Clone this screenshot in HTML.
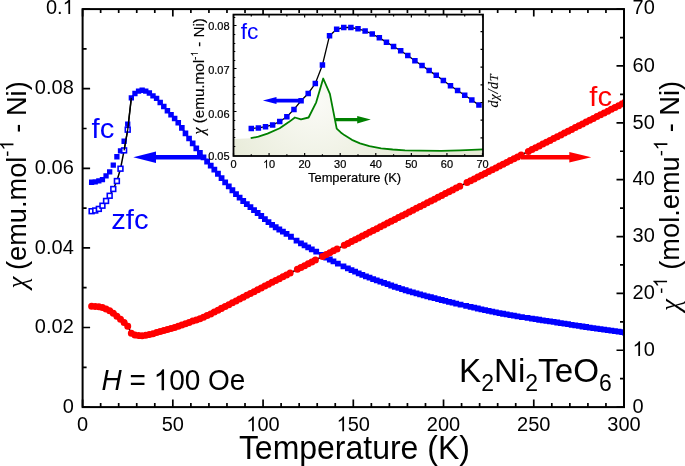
<!DOCTYPE html>
<html><head><meta charset="utf-8"><style>
html,body{margin:0;padding:0;background:#fff;}
svg{display:block;will-change:transform;}
text{font-family:"Liberation Sans",sans-serif;}
.ser{font-family:"Liberation Serif",serif;font-style:italic;}
</style></head><body>
<svg width="685" height="466" viewBox="0 0 685 466">
<defs>
<radialGradient id="gfill" cx="316" cy="100" r="110" gradientUnits="userSpaceOnUse">
<stop offset="0" stop-color="#fbfbf7"></stop><stop offset="1" stop-color="#e6eAd6"></stop>
</radialGradient>
<clipPath id="mclip"><rect x="82.6" y="9.1" width="541.4" height="398"></rect></clipPath>
</defs>
<rect width="685" height="466" fill="#fff"></rect>

<g clip-path="url(#mclip)">
<polyline fill="none" stroke="#000" stroke-width="1.5" points="91.62,211.2 95.23,210.49 98.84,208.9 102.45,205.71 106.06,200.94 109.67,195.76 113.28,189 116.89,181.04 120.5,168.7 124.11,150.39 127.72,129.69 131.33,97.85 134.94,93.48 138.54,91.09 142.15,90.29 145.76,91.15 149.37,92.99 152.98,95.84 156.59,98.35 160.2,102.42 163.81,106.61 167.42,110.78 171.03,114.77 174.64,118.55 178.25,122.7 181.86,127.92 185.47,133.4 189.08,138.47 192.68,143.41 196.29,148.28 199.9,152.95 203.51,157.31 207.12,161.48 210.73,165.59 214.34,169.62 217.95,173.75 221.56,178.08 225.17,182.37 228.78,186.38 232.39,190.25 236,194.03 239.61,197.63 243.22,200.99 246.82,204.12 250.43,207.1 254.04,210.03 257.65,212.98 261.26,216.02 264.87,219.1 268.48,222.08 272.09,224.82 275.7,227.25 279.31,229.48 282.92,231.64 286.53,233.85 290.14,236.2 293.75,238.68 297.36,241.12 300.96,243.38 304.57,245.44 308.18,247.4 311.79,249.32 315.4,251.27 319.01,253.3 322.62,255.45 326.23,257.55 329.84,259.49 333.45,261.36 337.06,263.17 340.67,264.94 344.28,266.66 347.89,268.37 351.5,270.04 355.1,271.69 358.71,273.28 362.32,274.82 365.93,276.29 369.54,277.69 373.15,279.05 376.76,280.36 380.37,281.66 383.98,282.94 387.59,284.22 391.2,285.49 394.81,286.74 398.42,287.95 402.03,289.12 405.64,290.24 409.24,291.32 412.85,292.36 416.46,293.37 420.07,294.35 423.68,295.32 427.29,296.28 430.9,297.23 434.51,298.17 438.12,299.09 441.73,300 445.34,300.9 448.95,301.79 452.56,302.66 456.17,303.53 459.78,304.38 463.38,305.21 466.99,306.04 470.6,306.86 474.21,307.68 477.82,308.49 481.43,309.29 485.04,310.07 488.65,310.84 492.26,311.6 495.87,312.34 499.48,313.06 503.09,313.75 506.7,314.43 510.31,315.07 513.92,315.7 517.52,316.3 521.13,316.9 524.74,317.48 528.35,318.06 531.96,318.63 535.57,319.2 539.18,319.75 542.79,320.29 546.4,320.84 550.01,321.38 553.62,321.93 557.23,322.49 560.84,323.06 564.45,323.64 568.06,324.22 571.66,324.8 575.27,325.37 578.88,325.93 582.49,326.49 586.1,327.02 589.71,327.54 593.32,328.05 596.93,328.55 600.54,329.05 604.15,329.55 607.76,330.06 611.37,330.58 614.98,331.1 618.59,331.61 622.2,332.13 624.9,332.53"></polyline>
<polyline fill="none" stroke="#000" stroke-width="1.5" points="91.62,306.3 95.23,306.46 98.84,306.8 102.45,307.54 106.06,308.93 109.67,310.71 113.28,313.28 116.89,316.19 120.5,319.16 124.11,322.44 127.72,326.25 131.33,333.19 134.94,334.97 138.54,335.6 142.15,335.78 145.76,335.33 149.37,334.61 152.98,333.72 156.59,332.62 160.2,331.55 163.81,330.59 167.42,329.59 171.03,328.55 174.64,327.47 178.25,326.33 181.86,325.1 185.47,323.75 189.08,322.38 192.68,321.09 196.29,319.9 199.9,318.64 203.51,317.19 207.12,315.61 210.73,313.91 214.34,312.12 217.95,310.26 221.56,308.38 225.17,306.51 228.78,304.65 232.39,302.79 236,300.93 239.61,299.07 243.22,297.21 246.82,295.35 250.43,293.49 254.04,291.64 257.65,289.78 261.26,287.92 264.87,286.06 268.48,284.21 272.09,282.35 275.7,280.49 279.31,278.64 282.92,276.78 286.53,274.93 290.14,273.07 293.75,271.22 297.36,269.36 300.96,267.51 304.57,265.66 308.18,263.8 311.79,261.95 315.4,260.1 319.01,258.24 322.62,256.39 326.23,254.54 329.84,252.69 333.45,250.84 337.06,248.99 340.67,247.14 344.28,245.29 347.89,243.44 351.5,241.59 355.1,239.74 358.71,237.89 362.32,236.04 365.93,234.2 369.54,232.35 373.15,230.5 376.76,228.65 380.37,226.81 383.98,224.96 387.59,223.11 391.2,221.27 394.81,219.42 398.42,217.58 402.03,215.73 405.64,213.89 409.24,212.05 412.85,210.2 416.46,208.36 420.07,206.52 423.68,204.67 427.29,202.83 430.9,200.99 434.51,199.15 438.12,197.3 441.73,195.46 445.34,193.62 448.95,191.78 452.56,189.94 456.17,188.1 459.78,186.26 463.38,184.42 466.99,182.59 470.6,180.75 474.21,178.91 477.82,177.07 481.43,175.23 485.04,173.4 488.65,171.56 492.26,169.72 495.87,167.89 499.48,166.05 503.09,164.22 506.7,162.38 510.31,160.55 513.92,158.71 517.52,156.88 521.13,155.04 524.74,153.21 528.35,151.38 531.96,149.54 535.57,147.71 539.18,145.88 542.79,144.05 546.4,142.22 550.01,140.39 553.62,138.55 557.23,136.72 560.84,134.89 564.45,133.06 568.06,131.23 571.66,129.4 575.27,127.58 578.88,125.75 582.49,123.92 586.1,122.09 589.71,120.26 593.32,118.44 596.93,116.61 600.54,114.78 604.15,112.96 607.76,111.13 611.37,109.31 614.98,107.48 618.59,105.65 622.2,103.83 624.9,102.46"></polyline>
<path fill="#0000ff" d="M88.97 179.58h5.3v5.3h-5.3zM92.58 179.18h5.3v5.3h-5.3zM96.19 178.19h5.3v5.3h-5.3zM99.8 176.99h5.3v5.3h-5.3zM103.41 173.29h5.3v5.3h-5.3zM107.02 169.23h5.3v5.3h-5.3zM110.63 162.47h5.3v5.3h-5.3zM114.24 154.11h5.3v5.3h-5.3zM117.85 148.14h5.3v5.3h-5.3zM121.46 138.59h5.3v5.3h-5.3zM125.07 121.47h5.3v5.3h-5.3zM128.68 95.2h5.3v5.3h-5.3zM132.29 90.83h5.3v5.3h-5.3zM135.89 88.43h5.31v5.31h-5.31zM139.49 87.62h5.34v5.34h-5.34zM143.08 88.47h5.36v5.36h-5.36zM146.68 90.29h5.39v5.39h-5.39zM150.28 93.13h5.41v5.41h-5.41zM153.87 95.63h5.44v5.44h-5.44zM157.47 99.69h5.46v5.46h-5.46zM161.07 103.87h5.49v5.49h-5.49zM164.66 108.03h5.51v5.51h-5.51zM168.26 112h5.54v5.54h-5.54zM171.86 115.77h5.56v5.56h-5.56zM175.45 119.9h5.59v5.59h-5.59zM179.05 125.11h5.61v5.61h-5.61zM182.65 130.58h5.64v5.64h-5.64zM186.24 135.64h5.66v5.66h-5.66zM189.84 140.57h5.69v5.69h-5.69zM193.44 145.42h5.71v5.71h-5.71zM197.03 150.08h5.74v5.74h-5.74zM200.63 154.43h5.76v5.76h-5.76zM204.23 158.59h5.79v5.79h-5.79zM207.83 162.69h5.8v5.8h-5.8zM211.44 166.72h5.8v5.8h-5.8zM215.05 170.85h5.8v5.8h-5.8zM218.66 175.18h5.8v5.8h-5.8zM222.27 179.47h5.8v5.8h-5.8zM225.88 183.48h5.8v5.8h-5.8zM229.49 187.35h5.8v5.8h-5.8zM233.1 191.13h5.8v5.8h-5.8zM236.71 194.73h5.8v5.8h-5.8zM240.32 198.09h5.8v5.8h-5.8zM243.92 201.22h5.8v5.8h-5.8zM247.53 204.2h5.8v5.8h-5.8zM251.14 207.13h5.8v5.8h-5.8zM254.75 210.08h5.8v5.8h-5.8zM258.36 213.12h5.8v5.8h-5.8zM261.97 216.2h5.8v5.8h-5.8zM265.58 219.18h5.8v5.8h-5.8zM269.19 221.92h5.8v5.8h-5.8zM272.8 224.35h5.8v5.8h-5.8zM276.41 226.58h5.8v5.8h-5.8zM280.02 228.74h5.8v5.8h-5.8zM283.63 230.95h5.8v5.8h-5.8zM288.05 233.86h5.8v5.8h-5.8zM293.64 237.68h5.8v5.8h-5.8zM298.06 240.48h5.8v5.8h-5.8zM301.67 242.54h5.8v5.8h-5.8zM305.28 244.5h5.8v5.8h-5.8zM308.89 246.42h5.8v5.8h-5.8zM313.31 248.81h5.8v5.8h-5.8zM318.91 252.07h5.8v5.8h-5.8zM323.33 254.65h5.8v5.8h-5.8zM326.94 256.59h5.8v5.8h-5.8zM330.55 258.46h5.8v5.8h-5.8zM334.97 260.67h5.8v5.8h-5.8zM340.56 263.38h5.8v5.8h-5.8zM344.99 265.47h5.8v5.8h-5.8zM348.6 267.14h5.8v5.8h-5.8zM352.2 268.79h5.8v5.8h-5.8zM355.81 270.38h5.8v5.8h-5.8zM359.42 271.92h5.8v5.8h-5.8zM363.03 273.39h5.8v5.8h-5.8zM366.64 274.79h5.8v5.8h-5.8zM370.25 276.15h5.8v5.8h-5.8zM373.86 277.46h5.8v5.8h-5.8zM377.47 278.76h5.8v5.8h-5.8zM381.08 280.04h5.8v5.8h-5.8zM384.69 281.32h5.8v5.8h-5.8zM388.3 282.59h5.8v5.8h-5.8zM391.91 283.84h5.8v5.8h-5.8zM395.52 285.05h5.8v5.8h-5.8zM399.13 286.22h5.8v5.8h-5.8zM402.74 287.34h5.8v5.8h-5.8zM406.34 288.42h5.8v5.8h-5.8zM409.95 289.46h5.8v5.8h-5.8zM413.56 290.47h5.8v5.8h-5.8zM417.17 291.45h5.8v5.8h-5.8zM420.78 292.42h5.8v5.8h-5.8zM424.39 293.38h5.8v5.8h-5.8zM428 294.33h5.8v5.8h-5.8zM431.61 295.27h5.8v5.8h-5.8zM435.22 296.19h5.8v5.8h-5.8zM438.83 297.1h5.8v5.8h-5.8zM442.44 298h5.8v5.8h-5.8zM446.05 298.89h5.8v5.8h-5.8zM449.66 299.76h5.8v5.8h-5.8zM453.27 300.63h5.8v5.8h-5.8zM457.69 301.66h5.8v5.8h-5.8zM463.28 302.95h5.8v5.8h-5.8zM467.7 303.96h5.8v5.8h-5.8zM471.31 304.78h5.8v5.8h-5.8zM474.92 305.59h5.8v5.8h-5.8zM478.53 306.39h5.8v5.8h-5.8zM482.14 307.17h5.8v5.8h-5.8zM485.75 307.94h5.8v5.8h-5.8zM489.36 308.7h5.8v5.8h-5.8zM492.97 309.44h5.8v5.8h-5.8zM496.58 310.16h5.8v5.8h-5.8zM500.19 310.85h5.8v5.8h-5.8zM503.8 311.53h5.8v5.8h-5.8zM507.41 312.17h5.8v5.8h-5.8zM511.02 312.8h5.8v5.8h-5.8zM514.62 313.4h5.8v5.8h-5.8zM519.05 314.13h5.8v5.8h-5.8zM524.64 315.03h5.8v5.8h-5.8zM529.06 315.73h5.8v5.8h-5.8zM532.67 316.3h5.8v5.8h-5.8zM536.28 316.85h5.8v5.8h-5.8zM539.89 317.39h5.8v5.8h-5.8zM543.5 317.94h5.8v5.8h-5.8zM547.11 318.48h5.8v5.8h-5.8zM550.72 319.03h5.8v5.8h-5.8zM554.33 319.59h5.8v5.8h-5.8zM557.94 320.16h5.8v5.8h-5.8zM561.55 320.74h5.8v5.8h-5.8zM565.16 321.32h5.8v5.8h-5.8zM568.76 321.9h5.8v5.8h-5.8zM572.37 322.47h5.8v5.8h-5.8zM575.98 323.03h5.8v5.8h-5.8zM579.59 323.59h5.8v5.8h-5.8zM583.2 324.12h5.8v5.8h-5.8zM586.81 324.64h5.8v5.8h-5.8zM590.42 325.15h5.8v5.8h-5.8zM594.03 325.65h5.8v5.8h-5.8zM597.64 326.15h5.8v5.8h-5.8zM601.25 326.65h5.8v5.8h-5.8zM604.86 327.16h5.8v5.8h-5.8zM608.47 327.68h5.8v5.8h-5.8zM612.08 328.2h5.8v5.8h-5.8zM615.69 328.71h5.8v5.8h-5.8zM619.3 329.23h5.8v5.8h-5.8zM622 329.63h5.8v5.8h-5.8z"></path>
<g fill="#fff" stroke="#0000ff" stroke-width="1.6"><rect x="89.22" y="208.8" width="4.8" height="4.8"></rect><rect x="92.83" y="208.09" width="4.8" height="4.8"></rect><rect x="96.44" y="206.5" width="4.8" height="4.8"></rect><rect x="100.05" y="203.31" width="4.8" height="4.8"></rect><rect x="103.66" y="198.54" width="4.8" height="4.8"></rect><rect x="107.27" y="193.36" width="4.8" height="4.8"></rect><rect x="110.88" y="186.6" width="4.8" height="4.8"></rect><rect x="114.49" y="178.64" width="4.8" height="4.8"></rect><rect x="118.1" y="166.3" width="4.8" height="4.8"></rect><rect x="121.71" y="147.99" width="4.8" height="4.8"></rect><rect x="125.32" y="127.29" width="4.8" height="4.8"></rect></g>
<polyline fill="none" stroke="#000" stroke-width="1.3" points="124.11,150.39 127.72,129.69 131.33,97.85"></polyline>
<path fill="#ff0000" d="M88.12 306.3a3.5 3.5 0 1 0 7 0a3.5 3.5 0 1 0 -7 0zM91.73 306.46a3.5 3.5 0 1 0 7 0a3.5 3.5 0 1 0 -7 0zM95.34 306.8a3.5 3.5 0 1 0 7 0a3.5 3.5 0 1 0 -7 0zM98.95 307.54a3.5 3.5 0 1 0 7 0a3.5 3.5 0 1 0 -7 0zM102.56 308.93a3.5 3.5 0 1 0 7 0a3.5 3.5 0 1 0 -7 0zM106.17 310.71a3.5 3.5 0 1 0 7 0a3.5 3.5 0 1 0 -7 0zM109.78 313.28a3.5 3.5 0 1 0 7 0a3.5 3.5 0 1 0 -7 0zM113.39 316.19a3.5 3.5 0 1 0 7 0a3.5 3.5 0 1 0 -7 0zM117 319.16a3.5 3.5 0 1 0 7 0a3.5 3.5 0 1 0 -7 0zM120.61 322.44a3.5 3.5 0 1 0 7 0a3.5 3.5 0 1 0 -7 0zM124.22 326.25a3.5 3.5 0 1 0 7 0a3.5 3.5 0 1 0 -7 0zM127.83 333.19a3.5 3.5 0 1 0 7 0a3.5 3.5 0 1 0 -7 0zM131.44 334.97a3.5 3.5 0 1 0 7 0a3.5 3.5 0 1 0 -7 0zM135.04 335.6a3.5 3.5 0 1 0 7 0a3.5 3.5 0 1 0 -7 0zM138.65 335.78a3.5 3.5 0 1 0 7 0a3.5 3.5 0 1 0 -7 0zM142.26 335.33a3.5 3.5 0 1 0 7 0a3.5 3.5 0 1 0 -7 0zM145.87 334.61a3.5 3.5 0 1 0 7 0a3.5 3.5 0 1 0 -7 0zM149.48 333.72a3.5 3.5 0 1 0 7 0a3.5 3.5 0 1 0 -7 0zM153.09 332.62a3.5 3.5 0 1 0 7 0a3.5 3.5 0 1 0 -7 0zM156.7 331.55a3.5 3.5 0 1 0 7 0a3.5 3.5 0 1 0 -7 0zM160.31 330.59a3.5 3.5 0 1 0 7 0a3.5 3.5 0 1 0 -7 0zM163.92 329.59a3.5 3.5 0 1 0 7 0a3.5 3.5 0 1 0 -7 0zM167.53 328.55a3.5 3.5 0 1 0 7 0a3.5 3.5 0 1 0 -7 0zM171.14 327.47a3.5 3.5 0 1 0 7 0a3.5 3.5 0 1 0 -7 0zM174.75 326.33a3.5 3.5 0 1 0 7 0a3.5 3.5 0 1 0 -7 0zM178.36 325.1a3.5 3.5 0 1 0 7 0a3.5 3.5 0 1 0 -7 0zM181.97 323.75a3.5 3.5 0 1 0 7 0a3.5 3.5 0 1 0 -7 0zM185.58 322.38a3.5 3.5 0 1 0 7 0a3.5 3.5 0 1 0 -7 0zM189.18 321.09a3.5 3.5 0 1 0 7 0a3.5 3.5 0 1 0 -7 0zM192.79 319.9a3.5 3.5 0 1 0 7 0a3.5 3.5 0 1 0 -7 0zM196.4 318.64a3.5 3.5 0 1 0 7 0a3.5 3.5 0 1 0 -7 0zM200.01 317.19a3.5 3.5 0 1 0 7 0a3.5 3.5 0 1 0 -7 0zM203.62 315.61a3.5 3.5 0 1 0 7 0a3.5 3.5 0 1 0 -7 0zM207.23 313.91a3.5 3.5 0 1 0 7 0a3.5 3.5 0 1 0 -7 0zM210.84 312.12a3.5 3.5 0 1 0 7 0a3.5 3.5 0 1 0 -7 0zM214.45 310.26a3.5 3.5 0 1 0 7 0a3.5 3.5 0 1 0 -7 0zM218.06 308.38a3.5 3.5 0 1 0 7 0a3.5 3.5 0 1 0 -7 0zM221.67 306.51a3.5 3.5 0 1 0 7 0a3.5 3.5 0 1 0 -7 0zM225.28 304.65a3.5 3.5 0 1 0 7 0a3.5 3.5 0 1 0 -7 0zM228.89 302.79a3.5 3.5 0 1 0 7 0a3.5 3.5 0 1 0 -7 0zM232.5 300.93a3.5 3.5 0 1 0 7 0a3.5 3.5 0 1 0 -7 0zM236.11 299.07a3.5 3.5 0 1 0 7 0a3.5 3.5 0 1 0 -7 0zM239.72 297.21a3.5 3.5 0 1 0 7 0a3.5 3.5 0 1 0 -7 0zM243.32 295.35a3.5 3.5 0 1 0 7 0a3.5 3.5 0 1 0 -7 0zM246.93 293.49a3.5 3.5 0 1 0 7 0a3.5 3.5 0 1 0 -7 0zM250.54 291.64a3.5 3.5 0 1 0 7 0a3.5 3.5 0 1 0 -7 0zM254.15 289.78a3.5 3.5 0 1 0 7 0a3.5 3.5 0 1 0 -7 0zM257.76 287.92a3.5 3.5 0 1 0 7 0a3.5 3.5 0 1 0 -7 0zM261.37 286.06a3.5 3.5 0 1 0 7 0a3.5 3.5 0 1 0 -7 0zM264.98 284.21a3.5 3.5 0 1 0 7 0a3.5 3.5 0 1 0 -7 0zM268.59 282.35a3.5 3.5 0 1 0 7 0a3.5 3.5 0 1 0 -7 0zM272.2 280.49a3.5 3.5 0 1 0 7 0a3.5 3.5 0 1 0 -7 0zM275.81 278.64a3.5 3.5 0 1 0 7 0a3.5 3.5 0 1 0 -7 0zM279.42 276.78a3.5 3.5 0 1 0 7 0a3.5 3.5 0 1 0 -7 0zM283.03 274.93a3.5 3.5 0 1 0 7 0a3.5 3.5 0 1 0 -7 0zM286.64 273.07a3.5 3.5 0 1 0 7 0a3.5 3.5 0 1 0 -7 0zM293.86 269.36a3.5 3.5 0 1 0 7 0a3.5 3.5 0 1 0 -7 0zM297.46 267.51a3.5 3.5 0 1 0 7 0a3.5 3.5 0 1 0 -7 0zM301.07 265.66a3.5 3.5 0 1 0 7 0a3.5 3.5 0 1 0 -7 0zM304.68 263.8a3.5 3.5 0 1 0 7 0a3.5 3.5 0 1 0 -7 0zM308.29 261.95a3.5 3.5 0 1 0 7 0a3.5 3.5 0 1 0 -7 0zM311.9 260.1a3.5 3.5 0 1 0 7 0a3.5 3.5 0 1 0 -7 0zM319.12 256.39a3.5 3.5 0 1 0 7 0a3.5 3.5 0 1 0 -7 0zM322.73 254.54a3.5 3.5 0 1 0 7 0a3.5 3.5 0 1 0 -7 0zM326.34 252.69a3.5 3.5 0 1 0 7 0a3.5 3.5 0 1 0 -7 0zM329.95 250.84a3.5 3.5 0 1 0 7 0a3.5 3.5 0 1 0 -7 0zM333.56 248.99a3.5 3.5 0 1 0 7 0a3.5 3.5 0 1 0 -7 0zM340.78 245.29a3.5 3.5 0 1 0 7 0a3.5 3.5 0 1 0 -7 0zM344.39 243.44a3.5 3.5 0 1 0 7 0a3.5 3.5 0 1 0 -7 0zM348 241.59a3.5 3.5 0 1 0 7 0a3.5 3.5 0 1 0 -7 0zM351.6 239.74a3.5 3.5 0 1 0 7 0a3.5 3.5 0 1 0 -7 0zM355.21 237.89a3.5 3.5 0 1 0 7 0a3.5 3.5 0 1 0 -7 0zM358.82 236.04a3.5 3.5 0 1 0 7 0a3.5 3.5 0 1 0 -7 0zM362.43 234.2a3.5 3.5 0 1 0 7 0a3.5 3.5 0 1 0 -7 0zM366.04 232.35a3.5 3.5 0 1 0 7 0a3.5 3.5 0 1 0 -7 0zM369.65 230.5a3.5 3.5 0 1 0 7 0a3.5 3.5 0 1 0 -7 0zM373.26 228.65a3.5 3.5 0 1 0 7 0a3.5 3.5 0 1 0 -7 0zM376.87 226.81a3.5 3.5 0 1 0 7 0a3.5 3.5 0 1 0 -7 0zM380.48 224.96a3.5 3.5 0 1 0 7 0a3.5 3.5 0 1 0 -7 0zM384.09 223.11a3.5 3.5 0 1 0 7 0a3.5 3.5 0 1 0 -7 0zM387.7 221.27a3.5 3.5 0 1 0 7 0a3.5 3.5 0 1 0 -7 0zM391.31 219.42a3.5 3.5 0 1 0 7 0a3.5 3.5 0 1 0 -7 0zM394.92 217.58a3.5 3.5 0 1 0 7 0a3.5 3.5 0 1 0 -7 0zM398.53 215.73a3.5 3.5 0 1 0 7 0a3.5 3.5 0 1 0 -7 0zM402.14 213.89a3.5 3.5 0 1 0 7 0a3.5 3.5 0 1 0 -7 0zM405.74 212.05a3.5 3.5 0 1 0 7 0a3.5 3.5 0 1 0 -7 0zM409.35 210.2a3.5 3.5 0 1 0 7 0a3.5 3.5 0 1 0 -7 0zM412.96 208.36a3.5 3.5 0 1 0 7 0a3.5 3.5 0 1 0 -7 0zM416.57 206.52a3.5 3.5 0 1 0 7 0a3.5 3.5 0 1 0 -7 0zM420.18 204.67a3.5 3.5 0 1 0 7 0a3.5 3.5 0 1 0 -7 0zM423.79 202.83a3.5 3.5 0 1 0 7 0a3.5 3.5 0 1 0 -7 0zM427.4 200.99a3.5 3.5 0 1 0 7 0a3.5 3.5 0 1 0 -7 0zM431.01 199.15a3.5 3.5 0 1 0 7 0a3.5 3.5 0 1 0 -7 0zM434.62 197.3a3.5 3.5 0 1 0 7 0a3.5 3.5 0 1 0 -7 0zM438.23 195.46a3.5 3.5 0 1 0 7 0a3.5 3.5 0 1 0 -7 0zM441.84 193.62a3.5 3.5 0 1 0 7 0a3.5 3.5 0 1 0 -7 0zM445.45 191.78a3.5 3.5 0 1 0 7 0a3.5 3.5 0 1 0 -7 0zM449.06 189.94a3.5 3.5 0 1 0 7 0a3.5 3.5 0 1 0 -7 0zM452.67 188.1a3.5 3.5 0 1 0 7 0a3.5 3.5 0 1 0 -7 0zM456.28 186.26a3.5 3.5 0 1 0 7 0a3.5 3.5 0 1 0 -7 0zM463.49 182.59a3.5 3.5 0 1 0 7 0a3.5 3.5 0 1 0 -7 0zM467.1 180.75a3.5 3.5 0 1 0 7 0a3.5 3.5 0 1 0 -7 0zM470.71 178.91a3.5 3.5 0 1 0 7 0a3.5 3.5 0 1 0 -7 0zM474.32 177.07a3.5 3.5 0 1 0 7 0a3.5 3.5 0 1 0 -7 0zM477.93 175.23a3.5 3.5 0 1 0 7 0a3.5 3.5 0 1 0 -7 0zM481.54 173.4a3.5 3.5 0 1 0 7 0a3.5 3.5 0 1 0 -7 0zM485.15 171.56a3.5 3.5 0 1 0 7 0a3.5 3.5 0 1 0 -7 0zM488.76 169.72a3.5 3.5 0 1 0 7 0a3.5 3.5 0 1 0 -7 0zM492.37 167.89a3.5 3.5 0 1 0 7 0a3.5 3.5 0 1 0 -7 0zM495.98 166.05a3.5 3.5 0 1 0 7 0a3.5 3.5 0 1 0 -7 0zM499.59 164.22a3.5 3.5 0 1 0 7 0a3.5 3.5 0 1 0 -7 0zM503.2 162.38a3.5 3.5 0 1 0 7 0a3.5 3.5 0 1 0 -7 0zM506.81 160.55a3.5 3.5 0 1 0 7 0a3.5 3.5 0 1 0 -7 0zM510.42 158.71a3.5 3.5 0 1 0 7 0a3.5 3.5 0 1 0 -7 0zM514.02 156.88a3.5 3.5 0 1 0 7 0a3.5 3.5 0 1 0 -7 0zM517.63 155.04a3.5 3.5 0 1 0 7 0a3.5 3.5 0 1 0 -7 0zM524.85 151.38a3.5 3.5 0 1 0 7 0a3.5 3.5 0 1 0 -7 0zM528.46 149.54a3.5 3.5 0 1 0 7 0a3.5 3.5 0 1 0 -7 0zM532.07 147.71a3.5 3.5 0 1 0 7 0a3.5 3.5 0 1 0 -7 0zM535.68 145.88a3.5 3.5 0 1 0 7 0a3.5 3.5 0 1 0 -7 0zM539.29 144.05a3.5 3.5 0 1 0 7 0a3.5 3.5 0 1 0 -7 0zM542.9 142.22a3.5 3.5 0 1 0 7 0a3.5 3.5 0 1 0 -7 0zM546.51 140.39a3.5 3.5 0 1 0 7 0a3.5 3.5 0 1 0 -7 0zM550.12 138.55a3.5 3.5 0 1 0 7 0a3.5 3.5 0 1 0 -7 0zM553.73 136.72a3.5 3.5 0 1 0 7 0a3.5 3.5 0 1 0 -7 0zM557.34 134.89a3.5 3.5 0 1 0 7 0a3.5 3.5 0 1 0 -7 0zM560.95 133.06a3.5 3.5 0 1 0 7 0a3.5 3.5 0 1 0 -7 0zM564.56 131.23a3.5 3.5 0 1 0 7 0a3.5 3.5 0 1 0 -7 0zM568.16 129.4a3.5 3.5 0 1 0 7 0a3.5 3.5 0 1 0 -7 0zM571.77 127.58a3.5 3.5 0 1 0 7 0a3.5 3.5 0 1 0 -7 0zM575.38 125.75a3.5 3.5 0 1 0 7 0a3.5 3.5 0 1 0 -7 0zM578.99 123.92a3.5 3.5 0 1 0 7 0a3.5 3.5 0 1 0 -7 0zM582.6 122.09a3.5 3.5 0 1 0 7 0a3.5 3.5 0 1 0 -7 0zM586.21 120.26a3.5 3.5 0 1 0 7 0a3.5 3.5 0 1 0 -7 0zM589.82 118.44a3.5 3.5 0 1 0 7 0a3.5 3.5 0 1 0 -7 0zM593.43 116.61a3.5 3.5 0 1 0 7 0a3.5 3.5 0 1 0 -7 0zM597.04 114.78a3.5 3.5 0 1 0 7 0a3.5 3.5 0 1 0 -7 0zM600.65 112.96a3.5 3.5 0 1 0 7 0a3.5 3.5 0 1 0 -7 0zM604.26 111.13a3.5 3.5 0 1 0 7 0a3.5 3.5 0 1 0 -7 0zM607.87 109.31a3.5 3.5 0 1 0 7 0a3.5 3.5 0 1 0 -7 0zM611.48 107.48a3.5 3.5 0 1 0 7 0a3.5 3.5 0 1 0 -7 0zM615.09 105.65a3.5 3.5 0 1 0 7 0a3.5 3.5 0 1 0 -7 0zM618.7 103.83a3.5 3.5 0 1 0 7 0a3.5 3.5 0 1 0 -7 0zM621.4 102.46a3.5 3.5 0 1 0 7 0a3.5 3.5 0 1 0 -7 0z"></path>
</g>
<path fill="none" stroke="#000" stroke-width="1.7" d="M82.6 407.1v-7.5M82.6 9.1v7.5M100.65 407.1v-4M100.65 9.1v4M118.69 407.1v-4M118.69 9.1v4M136.74 407.1v-4M136.74 9.1v4M154.79 407.1v-4M154.79 9.1v4M172.83 407.1v-7.5M172.83 9.1v7.5M190.88 407.1v-4M190.88 9.1v4M208.93 407.1v-4M208.93 9.1v4M226.97 407.1v-4M226.97 9.1v4M245.02 407.1v-4M245.02 9.1v4M263.07 407.1v-7.5M263.07 9.1v7.5M281.11 407.1v-4M281.11 9.1v4M299.16 407.1v-4M299.16 9.1v4M317.21 407.1v-4M317.21 9.1v4M335.25 407.1v-4M335.25 9.1v4M353.3 407.1v-7.5M353.3 9.1v7.5M371.35 407.1v-4M371.35 9.1v4M389.39 407.1v-4M389.39 9.1v4M407.44 407.1v-4M407.44 9.1v4M425.49 407.1v-4M425.49 9.1v4M443.53 407.1v-7.5M443.53 9.1v7.5M461.58 407.1v-4M461.58 9.1v4M479.63 407.1v-4M479.63 9.1v4M497.67 407.1v-4M497.67 9.1v4M515.72 407.1v-4M515.72 9.1v4M533.77 407.1v-7.5M533.77 9.1v7.5M551.81 407.1v-4M551.81 9.1v4M569.86 407.1v-4M569.86 9.1v4M587.91 407.1v-4M587.91 9.1v4M605.95 407.1v-4M605.95 9.1v4M624 407.1v-7.5M624 9.1v7.5M82.6 407.1h7.5M82.6 367.3h4M82.6 327.5h7.5M82.6 287.7h4M82.6 247.9h7.5M82.6 208.1h4M82.6 168.3h7.5M82.6 128.5h4M82.6 88.7h7.5M82.6 48.9h4M82.6 9.1h7.5M624 407.1h-7.5M624 378.67h-4M624 350.24h-7.5M624 321.81h-4M624 293.39h-7.5M624 264.96h-4M624 236.53h-7.5M624 208.1h-4M624 179.67h-7.5M624 151.24h-4M624 122.81h-7.5M624 94.39h-4M624 65.96h-7.5M624 37.53h-4M624 9.1h-7.5"></path>
<rect x="82.6" y="9.1" width="541.4" height="398" fill="none" stroke="#000" stroke-width="2"></rect>
<g font-size="20" fill="#000"><text x="73.8" y="412.9" text-anchor="end" transform="matrix(1 0 0 1.035 0 -14.45)">0</text><text x="73.8" y="333.3" text-anchor="end" transform="matrix(1 0 0 1.035 0 -11.67)">0.02</text><text x="73.8" y="253.7" text-anchor="end" transform="matrix(1 0 0 1.035 0 -8.88)">0.04</text><text x="73.8" y="174.1" text-anchor="end" transform="matrix(1 0 0 1.035 0 -6.09)">0.06</text><text x="73.8" y="94.5" text-anchor="end" transform="matrix(1 0 0 1.035 0 -3.31)">0.08</text><text x="73.8" y="13.9" text-anchor="end" transform="matrix(1 0 0 1.035 0 -0.49)">0.<tspan class="one"> </tspan></text><path transform="matrix(1 0 0 1.035 0 -0.49) translate(62.67,13.90) scale(0.00977,-0.00977)" d="M763 0L583 0L583 1147Q518 1085 412.5 1023Q307 961 223 930L223 1104Q374 1175 487 1276Q600 1377 647 1472L763 1472Z" fill="rgb(0, 0, 0)"></path><text x="82.6" y="431.3" text-anchor="middle" transform="matrix(1 0 0 1.035 0 -15.1)">0</text><text x="172.83" y="431.3" text-anchor="middle" transform="matrix(1 0 0 1.035 0 -15.1)">50</text><text x="263.07" y="431.3" text-anchor="middle" transform="matrix(1 0 0 1.035 0 -15.1)"><tspan class="one"> </tspan>00</text><path transform="matrix(1 0 0 1.035 0 -15.1) translate(246.38,431.30) scale(0.00977,-0.00977)" d="M763 0L583 0L583 1147Q518 1085 412.5 1023Q307 961 223 930L223 1104Q374 1175 487 1276Q600 1377 647 1472L763 1472Z" fill="rgb(0, 0, 0)"></path><text x="353.3" y="431.3" text-anchor="middle" transform="matrix(1 0 0 1.035 0 -15.1)"><tspan class="one"> </tspan>50</text><path transform="matrix(1 0 0 1.035 0 -15.1) translate(336.61,431.30) scale(0.00977,-0.00977)" d="M763 0L583 0L583 1147Q518 1085 412.5 1023Q307 961 223 930L223 1104Q374 1175 487 1276Q600 1377 647 1472L763 1472Z" fill="rgb(0, 0, 0)"></path><text x="443.53" y="431.3" text-anchor="middle" transform="matrix(1 0 0 1.035 0 -15.1)">200</text><text x="533.77" y="431.3" text-anchor="middle" transform="matrix(1 0 0 1.035 0 -15.1)">250</text><text x="624" y="431.3" text-anchor="middle" transform="matrix(1 0 0 1.035 0 -15.1)">300</text><text x="632.6" y="412.9" transform="matrix(1 0 0 1.035 0 -14.45)">0</text><text x="632.6" y="356.04" transform="matrix(1 0 0 1.035 0 -12.46)"><tspan class="one"> </tspan>0</text><path transform="matrix(1 0 0 1.035 0 -12.46) translate(632.60,356.04) scale(0.00977,-0.00977)" d="M763 0L583 0L583 1147Q518 1085 412.5 1023Q307 961 223 930L223 1104Q374 1175 487 1276Q600 1377 647 1472L763 1472Z" fill="rgb(0, 0, 0)"></path><text x="632.6" y="299.19" transform="matrix(1 0 0 1.035 0 -10.47)">20</text><text x="632.6" y="242.33" transform="matrix(1 0 0 1.035 0 -8.48)">30</text><text x="632.6" y="185.47" transform="matrix(1 0 0 1.035 0 -6.49)">40</text><text x="632.6" y="128.61" transform="matrix(1 0 0 1.035 0 -4.5)">50</text><text x="632.6" y="71.76" transform="matrix(1 0 0 1.035 0 -2.51)">60</text><text x="632.6" y="13.9" transform="matrix(1 0 0 1.035 0 -0.49)">70</text></g>
<text x="354.4" y="459.4" font-size="32" text-anchor="middle" transform="matrix(1 0 0 1.04 0 -18.38)">Temperature (K)</text>
<text transform="translate(25.8,0) rotate(-90) scale(1,1.03)" font-size="27.2"><tspan x="-288.6" y="0" font-family="Liberation Serif" font-style="italic" font-size="27">χ</tspan><tspan x="-270" y="0">(emu.mol</tspan><tspan y="-12" font-size="18.5">-<tspan class="one"> </tspan></tspan><tspan y="0"> - Ni)</tspan></text><path transform="translate(25.8,0) rotate(-90) scale(1,1.03) translate(-150.49,-12.00) scale(0.00903,-0.00903)" d="M763 0L583 0L583 1147Q518 1085 412.5 1023Q307 961 223 930L223 1104Q374 1175 487 1276Q600 1377 647 1472L763 1472Z" fill="rgb(0, 0, 0)"></path>
<text transform="translate(678.7,0) rotate(-90) scale(1,1.03)" font-size="27.2"><tspan x="-311" y="0" font-family="Liberation Serif" font-style="italic" font-size="27">χ</tspan><tspan x="-293.72" y="-11.3" font-size="18.5">-<tspan class="one"> </tspan></tspan><tspan x="-269.7" y="0">(mol.emu</tspan><tspan y="-11" font-size="18.5">-<tspan class="one"> </tspan></tspan><tspan y="0"> - Ni)</tspan></text><path transform="translate(678.7,0) rotate(-90) scale(1,1.03) translate(-150.19,-11.00) scale(0.00903,-0.00903)" d="M763 0L583 0L583 1147Q518 1085 412.5 1023Q307 961 223 930L223 1104Q374 1175 487 1276Q600 1377 647 1472L763 1472Z" fill="rgb(0, 0, 0)"></path><path transform="translate(678.7,0) rotate(-90) scale(1,1.03) translate(-287.56,-11.30) scale(0.00903,-0.00903)" d="M763 0L583 0L583 1147Q518 1085 412.5 1023Q307 961 223 930L223 1104Q374 1175 487 1276Q600 1377 647 1472L763 1472Z" fill="rgb(0, 0, 0)"></path>
<text x="91.6" y="138.5" font-size="28.2" fill="#0000ff" transform="matrix(1.04 0 0 1 -3.66 0)">fc</text>
<text x="111.2" y="228.8" font-size="28.1" fill="#0000ff" transform="matrix(1.04 0 0 1 -4.45 0)">zfc</text>
<text x="589.3" y="105.8" font-size="28" fill="#ff0000" transform="matrix(1.045 0 0 1 -26.52 0)">fc</text>
<text x="101.5" y="390.3" font-size="28" transform="matrix(1 0 0 1.04 0 -15.61)"><tspan font-style="italic">H</tspan> = <tspan class="one"> </tspan>00 Oe</text><path transform="matrix(1 0 0 1.04 0 -15.61) translate(153.62,390.30) scale(0.01367,-0.01367)" d="M763 0L583 0L583 1147Q518 1085 412.5 1023Q307 961 223 930L223 1104Q374 1175 487 1276Q600 1377 647 1472L763 1472Z" fill="rgb(0, 0, 0)"></path>
<text x="459.0" y="381.5" font-size="33.2">K<tspan font-size="23" dy="9.7">2</tspan><tspan dy="-9.7">Ni</tspan><tspan font-size="23" dy="9.7">2</tspan><tspan dy="-9.7">TeO</tspan><tspan font-size="23" dy="9.7">6</tspan></text>
<path fill="#0000ff" d="M133.3 157.3L156 151.6L156 155.1L202 155.1L202 159.5L156 159.5L156 162.9Z"></path>
<path fill="#ff0000" d="M591.2 157.2L569.3 151.9L569.3 155L521 155L521 159.4L569.3 159.4L569.3 162.6Z"></path>
<rect x="233.5" y="14.6" width="249.5" height="141.4" fill="#fff"></rect>
<path fill="url(#gfill)" d="M233.5 139L250.7 138.2L258.4 136.7L267.5 133.6L279.7 128.2L288.8 122.1L294.9 117.5L301 119.3L308.6 117.5L316.2 102.3L323.2 78.5L329.9 93.8L336.7 128.7L340.5 132.2L344.3 135.1L351.9 139.8L360 143.3L369.4 146.2L381.1 148.3L392.7 149.5L405 150.3L420 150.7L441.4 150.8L460 150.3L483 149.3L483 156L233.5 156Z"></path>
<polyline fill="none" stroke="#008000" stroke-width="1.8" stroke-linejoin="round" points="250.7,138.2 258.4,136.7 267.5,133.6 279.7,128.2 288.8,122.1 294.9,117.5 301,119.3 308.6,117.5 316.2,102.3 323.2,78.5 329.9,93.8 336.7,128.7 340.5,132.2 344.3,135.1 351.9,139.8 360,143.3 369.4,146.2 381.1,148.3 392.7,149.5 405,150.3 420,150.7 441.4,150.8 460,150.3 483,149.3"></polyline>
<polyline fill="none" stroke="#000" stroke-width="1.3" points="251.29,128.38 258.4,127.95 265.51,126.65 272.63,124.93 279.74,121.48 286.86,116.74 293.97,109.41 301.09,100.79 308.2,93.47 315.31,83.55 322.43,65.02 329.54,35.71 336.66,29.25 343.77,27.52 350.89,27.52 358,28.82 365.11,30.97 372.23,33.99 379.34,37.87 386.46,42.18 393.57,46.49 400.69,50.8 407.8,55.54 414.91,60.71 422.03,65.45 429.14,70.62 436.26,75.36 443.37,80.54 450.49,85.71 457.6,90.45 464.71,95.19 471.83,99.93 478.94,105.1"></polyline>
<path fill="#0000ff" d="M248.54 125.63h5.5v5.5h-5.5zM255.65 125.2h5.5v5.5h-5.5zM262.76 123.9h5.5v5.5h-5.5zM269.88 122.18h5.5v5.5h-5.5zM276.99 118.73h5.5v5.5h-5.5zM284.11 113.99h5.5v5.5h-5.5zM291.22 106.66h5.5v5.5h-5.5zM298.34 98.04h5.5v5.5h-5.5zM305.45 90.72h5.5v5.5h-5.5zM312.56 80.8h5.5v5.5h-5.5zM319.68 62.27h5.5v5.5h-5.5zM326.79 32.96h5.5v5.5h-5.5zM333.91 26.5h5.5v5.5h-5.5zM341.02 24.77h5.5v5.5h-5.5zM348.14 24.77h5.5v5.5h-5.5zM355.25 26.07h5.5v5.5h-5.5zM362.36 28.22h5.5v5.5h-5.5zM369.48 31.24h5.5v5.5h-5.5zM376.59 35.12h5.5v5.5h-5.5zM383.71 39.43h5.5v5.5h-5.5zM390.82 43.74h5.5v5.5h-5.5zM397.94 48.05h5.5v5.5h-5.5zM405.05 52.79h5.5v5.5h-5.5zM412.16 57.96h5.5v5.5h-5.5zM419.28 62.7h5.5v5.5h-5.5zM426.39 67.87h5.5v5.5h-5.5zM433.51 72.61h5.5v5.5h-5.5zM440.62 77.79h5.5v5.5h-5.5zM447.74 82.96h5.5v5.5h-5.5zM454.85 87.7h5.5v5.5h-5.5zM461.96 92.44h5.5v5.5h-5.5zM469.08 97.18h5.5v5.5h-5.5zM476.19 102.35h5.5v5.5h-5.5z"></path>
<path fill="#0000ff" d="M262.9 100.6L276.5 97.1L276.5 98.7L299 98.7L299 102.5L276.5 102.5L276.5 104.1Z"></path>
<path fill="#008000" d="M370.8 119.6L357.2 116L357.2 118L335.3 118L335.3 121.2L357.2 121.2L357.2 123.4Z"></path>
<path fill="none" stroke="#000" stroke-width="1.2" d="M233.5 156v-3M233.5 14.6v3M251.29 156v-1.8M251.29 14.6v1.8M269.07 156v-3M269.07 14.6v3M286.86 156v-1.8M286.86 14.6v1.8M304.64 156v-3M304.64 14.6v3M322.43 156v-1.8M322.43 14.6v1.8M340.21 156v-3M340.21 14.6v3M358 156v-1.8M358 14.6v1.8M375.79 156v-3M375.79 14.6v3M393.57 156v-1.8M393.57 14.6v1.8M411.36 156v-3M411.36 14.6v3M429.14 156v-1.8M429.14 14.6v1.8M446.93 156v-3M446.93 14.6v3M464.71 156v-1.8M464.71 14.6v1.8M482.5 156v-3M482.5 14.6v3M233.5 146.5h1.8M233.5 137.5h1.8M233.5 129.5h1.8M233.5 120.5h1.8M233.5 111.5h3M233.5 103.5h1.8M233.5 94.5h1.8M233.5 86.5h1.8M233.5 77.5h1.8M233.5 68.5h3M233.5 60.5h1.8M233.5 51.5h1.8M233.5 43.5h1.8M233.5 34.5h1.8M233.5 25.5h3M233.5 17.5h1.8M483 137.9h-2.5M483 120.2h-2.5M483 102.5h-2.5M483 84.8h-2.5M483 67.1h-2.5M483 49.4h-2.5M483 31.7h-2.5"></path>
<rect x="233.5" y="14.6" width="249.5" height="141.4" fill="none" stroke="#000" stroke-width="1.8"></rect>
<g font-size="11" stroke="#000" stroke-width="0.22"><text x="229.6" y="159.85" text-anchor="end" transform="matrix(1 0 0 1.07 0 -11.19)">0.05</text><text x="229.6" y="118.05" text-anchor="end" transform="matrix(1 0 0 1.07 0 -8.26)">0.06</text><text x="229.6" y="74.25" text-anchor="end" transform="matrix(1 0 0 1.07 0 -5.2)">0.07</text><text x="229.6" y="30.45" text-anchor="end" transform="matrix(1 0 0 1.07 0 -2.13)">0.08</text><text x="233.5" y="168.3" text-anchor="middle" transform="matrix(1 0 0 1.07 0 -11.78)">0</text><text x="269.07" y="168.3" text-anchor="middle" transform="matrix(1 0 0 1.07 0 -11.78)"><tspan class="one"> </tspan>0</text><path transform="matrix(1 0 0 1.07 0 -11.78) translate(262.96,168.30) scale(0.00537,-0.00537)" d="M763 0L583 0L583 1147Q518 1085 412.5 1023Q307 961 223 930L223 1104Q374 1175 487 1276Q600 1377 647 1472L763 1472Z" fill="rgb(0, 0, 0)"></path><text x="304.64" y="168.3" text-anchor="middle" transform="matrix(1 0 0 1.07 0 -11.78)">20</text><text x="340.21" y="168.3" text-anchor="middle" transform="matrix(1 0 0 1.07 0 -11.78)">30</text><text x="375.79" y="168.3" text-anchor="middle" transform="matrix(1 0 0 1.07 0 -11.78)">40</text><text x="411.36" y="168.3" text-anchor="middle" transform="matrix(1 0 0 1.07 0 -11.78)">50</text><text x="446.93" y="168.3" text-anchor="middle" transform="matrix(1 0 0 1.07 0 -11.78)">60</text><text x="482.5" y="168.3" text-anchor="middle" transform="matrix(1 0 0 1.07 0 -11.78)">70</text></g>
<text x="354.6" y="181.7" font-size="12.9" text-anchor="middle" stroke="#000" stroke-width="0.2">Temperature (K)</text>
<text transform="translate(204.4,134.4) rotate(-90)" font-size="15.2" stroke="#000" stroke-width="0.15"><tspan class="ser" font-size="15.7">χ</tspan> (emu.mol<tspan font-size="10" dy="-6.5">-<tspan class="one"> </tspan></tspan><tspan dy="6.5"> - Ni)</tspan></text><path transform="translate(204.4,134.4) rotate(-90) translate(77.77,-6.50) scale(0.00488,-0.00488)" d="M763 0L583 0L583 1147Q518 1085 412.5 1023Q307 961 223 930L223 1104Q374 1175 487 1276Q600 1377 647 1472L763 1472Z" fill="rgb(0, 0, 0)"></path>
<text class="ser" transform="translate(498.2,107.6) rotate(-90)" font-size="14.2" letter-spacing="0.6" stroke="#000" stroke-width="0.12">d<tspan font-size="13">χ</tspan>/d<tspan font-size="12.4">T</tspan></text>
<text x="240.7" y="38.8" font-size="21.8" fill="#0000ff" transform="matrix(1.045 0 0 1 -10.83 0)">fc</text>
</svg></body></html>
